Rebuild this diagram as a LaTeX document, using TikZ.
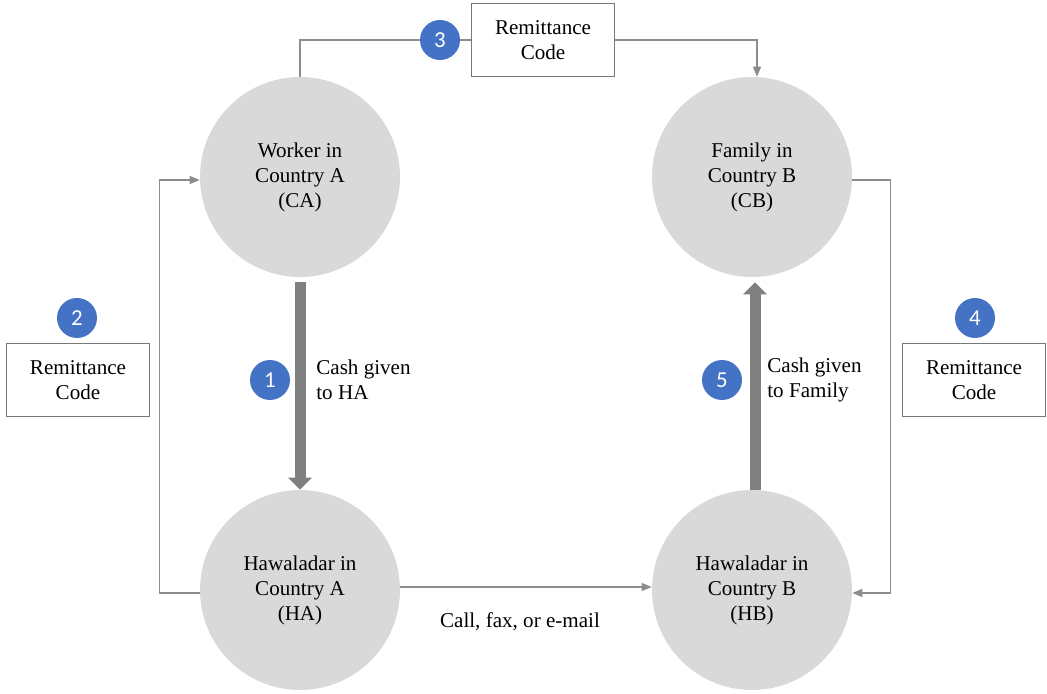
\documentclass[tikz,border=0pt]{standalone}
\usepackage{fontspec}
\setmainfont{Liberation Serif}
\newfontfamily\badgefont{Carlito}
\usetikzlibrary{arrows.meta}
\definecolor{circgray}{RGB}{217,217,217}
\definecolor{linegray}{RGB}{140,140,140}
\definecolor{boxgray}{RGB}{120,120,120}
\definecolor{cashgray}{RGB}{128,128,128}
\definecolor{badgeblue}{RGB}{68,114,196}

\begin{document}
\begin{tikzpicture}[x=0.02cm,y=0.02cm,line cap=butt] %% tikz
	\tikzstyle{party}=[circle,fill=circgray,minimum size=4cm,inner sep=0pt,align=center,font=\fontsize{12}{14.2}\selectfont];
	\tikzstyle{codebox}=[draw=boxgray,line width=0.7pt,fill=white,minimum width=2.86cm,minimum height=1.46cm,align=center,font=\fontsize{12}{14.2}\selectfont];
	\tikzstyle{badge}=[circle,fill=badgeblue,text=white,minimum size=0.8cm,inner sep=0pt,font=\badgefont\fontsize{13}{13}\selectfont];
	\tikzstyle{txt}=[align=left,inner sep=0pt,font=\fontsize{12}{14.2}\selectfont];
	\tikzstyle{thin}=[draw=linegray,line width=0.7pt,-{Triangle[length=0.2cm,width=0.16cm]}];
	\tikzstyle{cash}=[draw=cashgray,line width=0.22cm,-{Triangle[length=0.24cm,width=0.46cm]}];
	\useasboundingbox (0,0) rectangle (1047,693);
	%% the four parties
	\node[party] (CA) at (300,516) {Worker in\\Country A\\(CA)};
	\node[party] (CB) at (752,516) {Family in\\Country B\\(CB)};
	\node[party] (HA) at (300,103) {Hawaladar in\\Country A\\(HA)};
	\node[party] (HB) at (752,103) {Hawaladar in\\Country B\\(HB)};
	%% remittance code boxes
	\node[codebox] (code3) at (543,653) {Remittance\\Code};
	\node[codebox] (code2) at (78,313) {Remittance\\Code};
	\node[codebox] (code4) at (974,313) {Remittance\\Code};
	%% step badges
	\node[badge] (b1) at (270,313) {1};
	\node[badge] (b2) at (77,375) {2};
	\node[badge] (b3) at (440,653) {3};
	\node[badge] (b4) at (975,375) {4};
	\node[badge] (b5) at (722,313) {5};
	%% cash flows
	\draw[cash] ([yshift=-0.1cm]CA.south) -- (HA.north);
	\draw[cash] ([xshift=0.06cm]HB.north) -- ([xshift=0.06cm,yshift=-0.1cm]CB.south);
	\node[txt,anchor=west] (cash1) at (316,313) {Cash given\\to HA};
	\node[txt,anchor=west] (cash5) at (767,313) {Cash given\\to Family};
	%% code flows
	\draw[thin,-] (CA.north) |- (b3.west);
	\draw[thin,-] (b3.east) -- (code3.west);
	\draw[thin] (code3.east) -| ([xshift=0.1cm]CB.north);
	\draw[thin] ([yshift=-0.06cm]HA.west) -- ++(-40,0) |- ([yshift=-0.06cm]CA.west);
	\draw[thin] ([yshift=-0.06cm]CB.east) -- ++(38,0) |- ([yshift=-0.06cm]HB.east);
	\draw[thin] ([yshift=0.06cm]HA.east) -- ([yshift=0.06cm]HB.west);
	\node[txt] (call) at (520,71) {Call, fax, or e-mail};
\end{tikzpicture}
\end{document}
